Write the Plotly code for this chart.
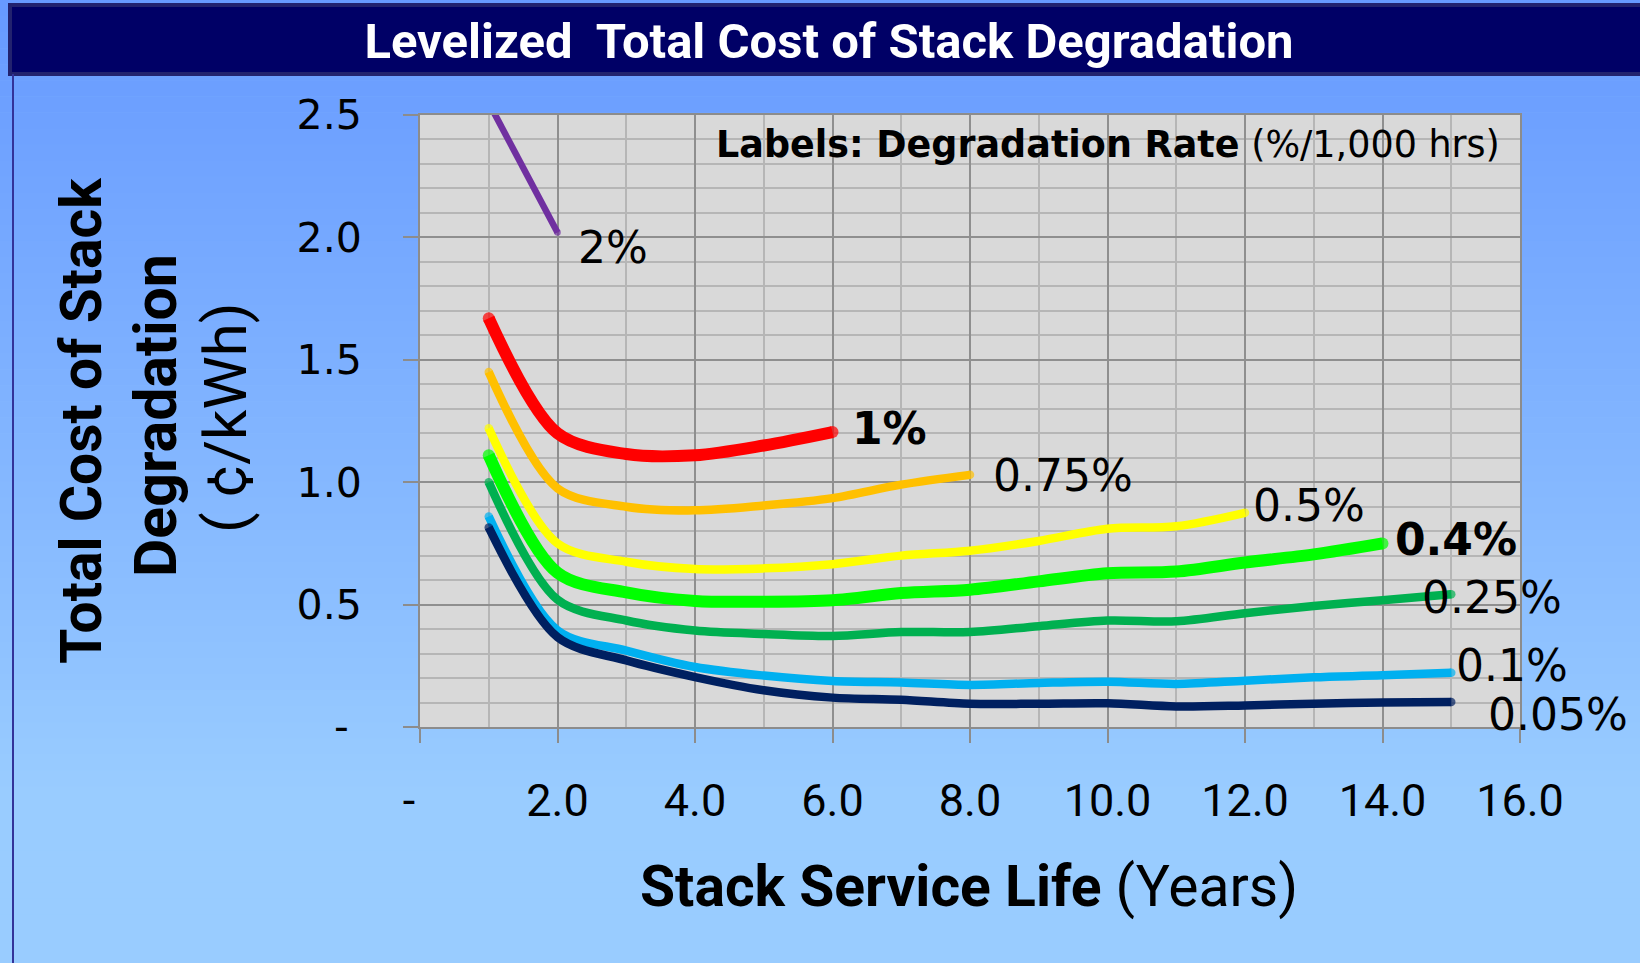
import plotly.graph_objects as go

# ---------------- data ----------------
years_2 = [1, 2]
cost_2 = [2.55, 2.02]
years_1 = [1, 2, 3, 4, 5, 6]
cost_1 = [1.67, 1.20, 1.115, 1.11, 1.15, 1.205]
years_075 = [1, 2, 3, 4, 5, 6, 7, 8]
cost_075 = [1.45, 0.975, 0.90, 0.885, 0.905, 0.935, 0.99, 1.03]
years_05 = list(range(1, 13))
cost_05 = [1.22, 0.75, 0.675, 0.645, 0.648, 0.665, 0.70, 0.72, 0.76, 0.81, 0.82, 0.875]
years_04 = list(range(1, 15))
cost_04 = [1.11, 0.63, 0.55, 0.515, 0.512, 0.518, 0.547, 0.561, 0.595, 0.628, 0.635, 0.672, 0.705, 0.75]
years_025 = list(range(1, 16))
cost_025 = [1.0, 0.52, 0.435, 0.394, 0.38, 0.372, 0.388, 0.388, 0.412, 0.435, 0.432, 0.465, 0.494, 0.518, 0.542]
years_01 = list(range(1, 16))
cost_01 = [0.86, 0.395, 0.312, 0.245, 0.21, 0.188, 0.182, 0.172, 0.18, 0.185, 0.176, 0.189, 0.203, 0.211, 0.222]
years_005 = list(range(1, 16))
cost_005 = [0.815, 0.367, 0.272, 0.204, 0.15, 0.12, 0.111, 0.095, 0.095, 0.097, 0.084, 0.088, 0.095, 0.10, 0.102]

series_labels = ["2%", "1%", "0.75%", "0.5%", "0.4%", "0.25%", "0.1%", "0.05%"]

x_tickvals = [0, 2, 4, 6, 8, 10, 12, 14, 16]
x_ticktext = ["-\u00a0\u00a0", "2.0", "4.0", "6.0", "8.0", "10.0", "12.0", "14.0", "16.0"]
y_tickvals = [0, 0.5, 1.0, 1.5, 2.0, 2.5]
y_ticktext = ["-\u00a0", "0.5", "1.0", "1.5", "2.0", "2.5"]

title_text = "Levelized\u00a0 Total Cost of Stack Degradation"
x_title = "<b>Stack Service Life</b> (Years)"
y_title_lines = ["<b>Total Cost of Stack</b>", "<b>Degradation</b>", "( \u00a2/kWh)"]
note_text = "<b>Labels: Degradation Rate</b> (%/1,000 hrs)"

# ---------------- styling ----------------
W, H = 1640, 963
L, R, T, B = 420, 1520, 115, 727   # plot area in pixels

series = [
    (years_2, cost_2, "#7030A0", 6.5, 18, -15, False),
    (years_1, cost_1, "#FF0000", 12, 17, 4, True),
    (years_075, cost_075, "#FFC000", 8.5, 21, -1, False),
    (years_05, cost_05, "#FFFF00", 8.5, 6, 7, False),
    (years_04, cost_04, "#00FF00", 12, 10, 4, True),
    (years_025, cost_025, "#00B050", 8.5, -31, -3, False),
    (years_01, cost_01, "#00B0F0", 8.5, 3, 7, False),
    (years_005, cost_005, "#002060", 8.5, 35, -12, False),
]

fig = go.Figure()
annotations = []
for (xs, ys, col, w, dx, dy, bold), lab in zip(series, series_labels):
    sizes = [0] * len(xs)
    sizes[0] = w
    sizes[-1] = w
    fig.add_trace(go.Scatter(
        x=xs, y=ys, mode="lines+markers",
        line=dict(color=col, width=w, shape="spline", smoothing=0.9),
        marker=dict(size=sizes, color=col, line=dict(width=0)),
        hoverinfo="skip", showlegend=False,
    ))
    annotations.append(dict(
        x=xs[-1], y=ys[-1], xref="x", yref="y", text=lab,
        showarrow=False, xanchor="left", yanchor="middle",
        xshift=dx, yshift=dy,
        font=dict(family="DejaVu Sans", size=44, color="black",
                  weight=700 if bold else 400),
    ))

def px_x(p):
    return (p - L) / (R - L)

def px_y(p):
    return (B - p) / (B - T)

# axis titles / notes
annotations.append(dict(x=px_x(969), y=px_y(886), xref="paper", yref="paper",
                        text=x_title, showarrow=False, xanchor="center", yanchor="middle",
                        font=dict(family="Roboto", size=57, color="black")))
for xc, yc, t, fs in zip([81, 155, 225], [421, 416, 418], y_title_lines, [57, 59, 60]):
    annotations.append(dict(x=px_x(xc), y=px_y(yc), xref="paper", yref="paper",
                            text=t, showarrow=False, textangle=-90,
                            xanchor="center", yanchor="middle",
                            font=dict(family="Roboto", size=fs, color="black")))
annotations.append(dict(x=px_x(714), y=px_y(144), xref="paper", yref="paper",
                        text=note_text, showarrow=False, xanchor="left", yanchor="middle",
                        font=dict(family="DejaVu Sans", size=36.5, color="black")))

# background gradient + plot-area fill + title bar + decorations
shapes = []
top_c = (102, 153, 255)
bot_c = (153, 204, 255)
nb = 60
for i in range(nb):
    y0 = i * H / nb
    y1 = (i + 1) * H / nb
    f = min(1.0, (y0 + y1) / 2 / 800)
    c = tuple(int(round(top_c[k] + (bot_c[k] - top_c[k]) * f)) for k in range(3))
    shapes.append(dict(type="rect", xref="paper", yref="paper", layer="below",
                       x0=px_x(0), x1=px_x(W), y0=px_y(y1 + 0.5), y1=px_y(y0),
                       fillcolor="rgb(%d,%d,%d)" % c, line=dict(width=0)))
shapes.append(dict(type="rect", xref="paper", yref="paper", layer="below",
                   x0=0, x1=1, y0=0, y1=1,
                   fillcolor="#d9d9d9", line=dict(width=0)))
shapes.append(dict(type="rect", xref="paper", yref="paper", layer="above",
                   x0=px_x(10), x1=px_x(W + 5), y0=px_y(74), y1=px_y(5),
                   fillcolor="#000066", line=dict(color="#22226e", width=4)))
shapes.append(dict(type="line", xref="paper", yref="paper", layer="above",
                   x0=px_x(13), x1=px_x(13), y0=px_y(H), y1=px_y(74),
                   line=dict(color="#333399", width=2)))
shapes.append(dict(type="line", xref="paper", yref="y", layer="below",
                   x0=0, x1=1, y0=1.8, y1=1.8,
                   line=dict(color="#8fb0ff", width=1.5)))

fig.update_layout(
    width=W, height=H,
    margin=dict(l=L, r=W - R, t=T, b=H - B, pad=0),
    paper_bgcolor="#99ccff",
    plot_bgcolor="#d9d9d9",
    title=dict(text=title_text, x=829 / W, xanchor="center", xref="container",
               y=1 - 41 / H, yanchor="middle", yref="container",
               font=dict(family="Roboto", size=49, color="white", weight=700)),
    shapes=shapes,
    annotations=annotations,
    xaxis=dict(range=[0, 16], tickmode="array", tickvals=x_tickvals, ticktext=x_ticktext,
               showgrid=True, gridcolor="#8f8f8f", gridwidth=1.8,
               minor=dict(dtick=1, tick0=0, showgrid=True, gridcolor="#b6b6b6", gridwidth=1.6, ticks=""),
               ticks="outside", ticklen=14, tickwidth=2, tickcolor="#8c8c8c",
               showline=True, linecolor="#8c8c8c", linewidth=2, mirror=True, zeroline=False,
               ticklabelstandoff=19,
               tickfont=dict(family="Roboto", size=45, color="black")),
    yaxis=dict(range=[0, 2.5], tickmode="array", tickvals=y_tickvals, ticktext=y_ticktext,
               showgrid=True, gridcolor="#8f8f8f", gridwidth=1.8,
               minor=dict(dtick=0.1, tick0=0, showgrid=True, gridcolor="#b6b6b6", gridwidth=1.6, ticks=""),
               ticks="outside", ticklen=15, tickwidth=2, tickcolor="#8c8c8c",
               showline=True, linecolor="#8c8c8c", linewidth=2, mirror=True, zeroline=False,
               ticklabelstandoff=33,
               tickfont=dict(family="DejaVu Sans", size=41, color="black")),
)

fig.write_html("out.html", config={"displayModeBar": False, "responsive": False},
               post_script="document.body.style.margin='0';")
